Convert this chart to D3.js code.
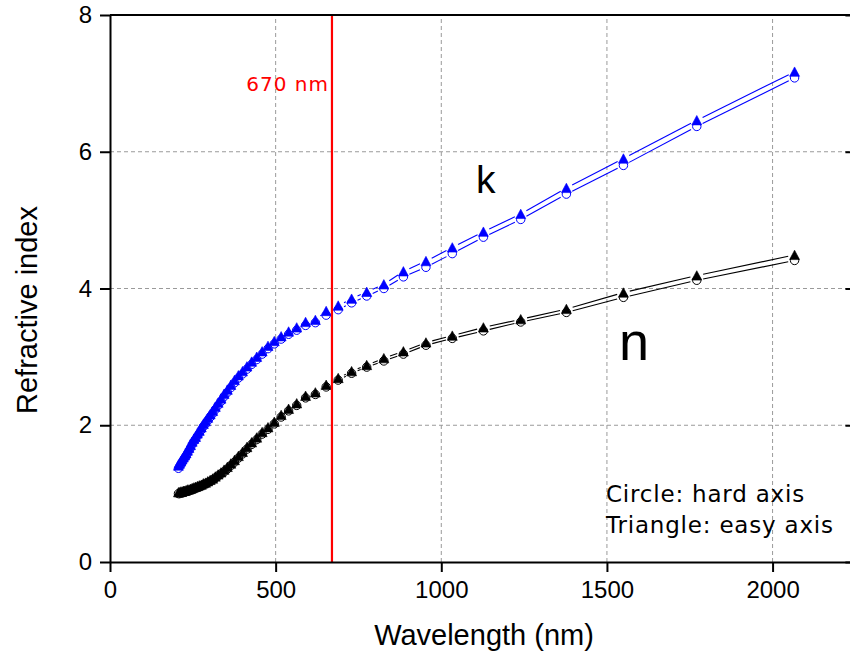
<!DOCTYPE html>
<html>
<head>
<meta charset="utf-8">
<script src="https://cdn.jsdelivr.net/npm/d3@7/dist/d3.min.js"></script>
<style>
  html, body { margin: 0; padding: 0; background: #fff; }
  svg { display: block; }
</style>
</head>
<body>
<svg id="chart" width="850" height="657"></svg>
<script>
// Wavelength grid (nm), photon energies 0.6 … 6.0 eV in 0.1 eV steps
const wavelength = [
  2066.4, 1771.2, 1549.8, 1377.6, 1239.8, 1127.1, 1033.2, 953.7, 885.6, 826.6,
  774.9, 729.3, 688.8, 652.5, 619.9, 590.4, 563.6, 539.1, 516.6, 495.9,
  476.9, 459.2, 442.8, 427.5, 413.3, 400.0, 387.5, 375.7, 364.7, 354.2,
  344.4, 335.1, 326.3, 317.9, 310.0, 302.4, 295.2, 288.3, 281.8, 275.5,
  269.5, 263.8, 258.3, 253.0, 248.0, 243.1, 238.4, 233.9, 229.6, 225.4,
  221.4, 217.5, 213.8, 210.1, 206.6
];

// Extinction coefficient k
const kEasy = [
  7.17, 6.46, 5.90, 5.47, 5.09, 4.83, 4.60, 4.40, 4.25, 4.06,
  3.95, 3.85, 3.75, 3.67, 3.54, 3.51, 3.43, 3.37, 3.30, 3.23,
  3.16, 3.08, 3.00, 2.93, 2.86, 2.79, 2.73, 2.66, 2.59, 2.52,
  2.46, 2.39, 2.33, 2.27, 2.21, 2.16, 2.11, 2.06, 2.02, 1.97,
  1.92, 1.88, 1.83, 1.80, 1.76, 1.71, 1.67, 1.63, 1.59, 1.56,
  1.53, 1.50, 1.47, 1.44, 1.41
];
const kHard = [
  7.08, 6.37, 5.80, 5.38, 5.01, 4.75, 4.51, 4.31, 4.17, 4.00,
  3.89, 3.79, 3.69, 3.61, 3.50, 3.46, 3.39, 3.33, 3.26, 3.19,
  3.12, 3.04, 2.96, 2.89, 2.82, 2.75, 2.69, 2.62, 2.55, 2.48,
  2.42, 2.35, 2.29, 2.23, 2.17, 2.12, 2.07, 2.02, 1.98, 1.93,
  1.88, 1.84, 1.79, 1.76, 1.72, 1.67, 1.63, 1.59, 1.55, 1.52,
  1.49, 1.46, 1.43, 1.40, 1.37
];

// Refractive index n
const nEasy = [
  4.49, 4.19, 3.94, 3.70, 3.55, 3.43, 3.31, 3.21, 3.08, 2.98,
  2.88, 2.79, 2.69, 2.59, 2.48, 2.43, 2.32, 2.24, 2.15, 2.05,
  1.97, 1.90, 1.82, 1.75, 1.68, 1.61, 1.55, 1.49, 1.44, 1.39,
  1.35, 1.31, 1.28, 1.25, 1.22, 1.20, 1.18, 1.16, 1.15, 1.13,
  1.12, 1.11, 1.10, 1.09, 1.08, 1.07, 1.06, 1.06, 1.05, 1.04,
  1.04, 1.03, 1.03, 1.02, 1.02
];
const nHard = [
  4.41, 4.12, 3.87, 3.65, 3.51, 3.38, 3.27, 3.17, 3.04, 2.94,
  2.85, 2.76, 2.66, 2.56, 2.45, 2.40, 2.29, 2.21, 2.12, 2.02,
  1.94, 1.87, 1.79, 1.72, 1.65, 1.58, 1.52, 1.46, 1.41, 1.36,
  1.32, 1.29, 1.26, 1.23, 1.20, 1.18, 1.16, 1.14, 1.13, 1.11,
  1.10, 1.09, 1.08, 1.07, 1.06, 1.05, 1.04, 1.04, 1.03, 1.02,
  1.02, 1.01, 1.01, 1.00, 1.00
];

const xTicks = [0, 500, 1000, 1500, 2000];
const yTicks = [0, 2, 4, 6, 8];
const xGrid = [500, 1000, 1500, 2000];
const yGrid = [2, 4, 6];
const markerWavelength = 670;

const svg = d3.select("#chart");
const x = d3.scaleLinear().domain([0, 2250]).range([110, 855.4]);
const y = d3.scaleLinear().domain([0, 8]).range([562, 15]);

// dashed grid
const grid = svg.append("g").attr("stroke", "#9a9a9a").attr("stroke-width", 1)
  .attr("stroke-dasharray", "4,3").attr("fill", "none");
grid.selectAll(".gx").data(xGrid).join("line")
  .attr("x1", d => x(d)).attr("x2", d => x(d))
  .attr("y1", y(0)).attr("y2", y(8));
grid.selectAll(".gy").data(yGrid).join("line")
  .attr("x1", x(0)).attr("x2", x(2250))
  .attr("y1", d => y(d)).attr("y2", d => y(d));

// connecting lines, broken around each symbol
function gapLine(vals, color, gap) {
  const pts = wavelength.map((w, i) => [x(w), y(vals[i])]);
  const segs = [];
  for (let i = 0; i < pts.length - 1; i++) {
    const [x0, y0] = pts[i], [x1, y1] = pts[i + 1];
    const dx = x1 - x0, dy = y1 - y0, len = Math.hypot(dx, dy);
    if (len <= 2 * gap) continue;
    const ux = dx / len, uy = dy / len;
    segs.push([x0 + ux * gap, y0 + uy * gap, x1 - ux * gap, y1 - uy * gap]);
  }
  svg.append("g").selectAll("line").data(segs).join("line")
    .attr("x1", d => d[0]).attr("y1", d => d[1])
    .attr("x2", d => d[2]).attr("y2", d => d[3])
    .attr("stroke", color).attr("stroke-width", 1.1);
}

function circles(vals, color) {
  svg.append("g").selectAll("circle").data(vals).join("circle")
    .attr("cx", (d, i) => x(wavelength[i])).attr("cy", d => y(d))
    .attr("r", 4.2).attr("fill", "#fff").attr("stroke", color).attr("stroke-width", 1);
}

function triangles(vals, color) {
  svg.append("g").selectAll("path").data(vals).join("path")
    .attr("d", (d, i) => {
      const cx = x(wavelength[i]), cy = y(d);
      return `M${cx - 5},${cy + 4.6}L${cx + 5},${cy + 4.6}L${cx},${cy - 4.8}Z`;
    })
    .attr("fill", color).attr("stroke", color).attr("stroke-width", 0.6);
}

gapLine(kEasy, "#0000ff", 6.5);
gapLine(kHard, "#0000ff", 6.5);
gapLine(nEasy, "#000", 6.5);
gapLine(nHard, "#000", 6.5);
circles(kHard, "#0000ff");
triangles(kEasy, "#0000ff");
circles(nHard, "#000");
triangles(nEasy, "#000");

// 670 nm marker line
svg.append("line")
  .attr("x1", x(markerWavelength)).attr("x2", x(markerWavelength))
  .attr("y1", y(0)).attr("y2", y(8))
  .attr("stroke", "#ff0000").attr("stroke-width", 2.2);
svg.append("text")
  .attr("x", x(markerWavelength) - 3).attr("y", 91)
  .attr("text-anchor", "end")
  .attr("font-family", "'DejaVu Sans', sans-serif").attr("font-size", 20)
  .attr("letter-spacing", 1)
  .attr("fill", "#ff0000").text("670 nm");

// axes
const xAxis = svg.append("g").attr("transform", `translate(0,${y(0)})`)
  .call(d3.axisBottom(x).tickValues(xTicks).tickFormat(d3.format("d"))
    .tickSize(10).tickSizeOuter(0).tickPadding(9));
const yAxis = svg.append("g").attr("transform", `translate(${x(0)},0)`)
  .call(d3.axisLeft(y).tickValues(yTicks).tickFormat(d3.format("d"))
    .tickSize(10).tickSizeOuter(0).tickPadding(8));
[xAxis, yAxis].forEach(g => {
  g.select(".domain").attr("stroke", "#000").attr("stroke-width", 2);
  g.selectAll(".tick line").attr("stroke", "#000").attr("stroke-width", 2);
  g.selectAll(".tick text").attr("fill", "#000")
    .attr("font-family", "'Liberation Sans', Arial, sans-serif").attr("font-size", 24);
});

// frame: top edge and right edge with inward ticks
svg.append("line").attr("x1", x(0)).attr("x2", x(2250)).attr("y1", y(8)).attr("y2", y(8))
  .attr("stroke", "#000").attr("stroke-width", 2);
const rightAxis = svg.append("g").attr("transform", `translate(${x(2250)},0)`)
  .call(d3.axisLeft(y).tickValues(yTicks).tickSize(0).tickSizeOuter(0).tickFormat(""));
rightAxis.select(".domain").attr("stroke", "#000").attr("stroke-width", 2);
rightAxis.selectAll(".tick line").attr("x2", -10).attr("stroke", "#000").attr("stroke-width", 2);

// axis titles
svg.append("text")
  .attr("x", 484).attr("y", 645).attr("text-anchor", "middle")
  .attr("font-family", "'Liberation Sans', Arial, sans-serif").attr("font-size", 29)
  .text("Wavelength (nm)");
svg.append("text")
  .attr("transform", "translate(37,310) rotate(-90)").attr("text-anchor", "middle")
  .attr("font-family", "'Liberation Sans', Arial, sans-serif").attr("font-size", 29)
  .text("Refractive index");

// series labels
svg.append("text").attr("x", 476).attr("y", 193)
  .attr("font-family", "'Liberation Sans', Arial, sans-serif").attr("font-size", 39)
  .text("k");
svg.append("text").attr("x", 619).attr("y", 360)
  .attr("font-family", "'Liberation Sans', Arial, sans-serif").attr("font-size", 54)
  .text("n");

// legend note
const note = svg.append("g")
  .attr("font-family", "'DejaVu Sans', sans-serif").attr("font-size", 23)
  .attr("letter-spacing", 0.8).attr("fill", "#000");
note.append("text").attr("x", 606).attr("y", 502).text("Circle: hard axis");
note.append("text").attr("x", 606).attr("y", 533).text("Triangle: easy axis");
</script>
</body>
</html>
